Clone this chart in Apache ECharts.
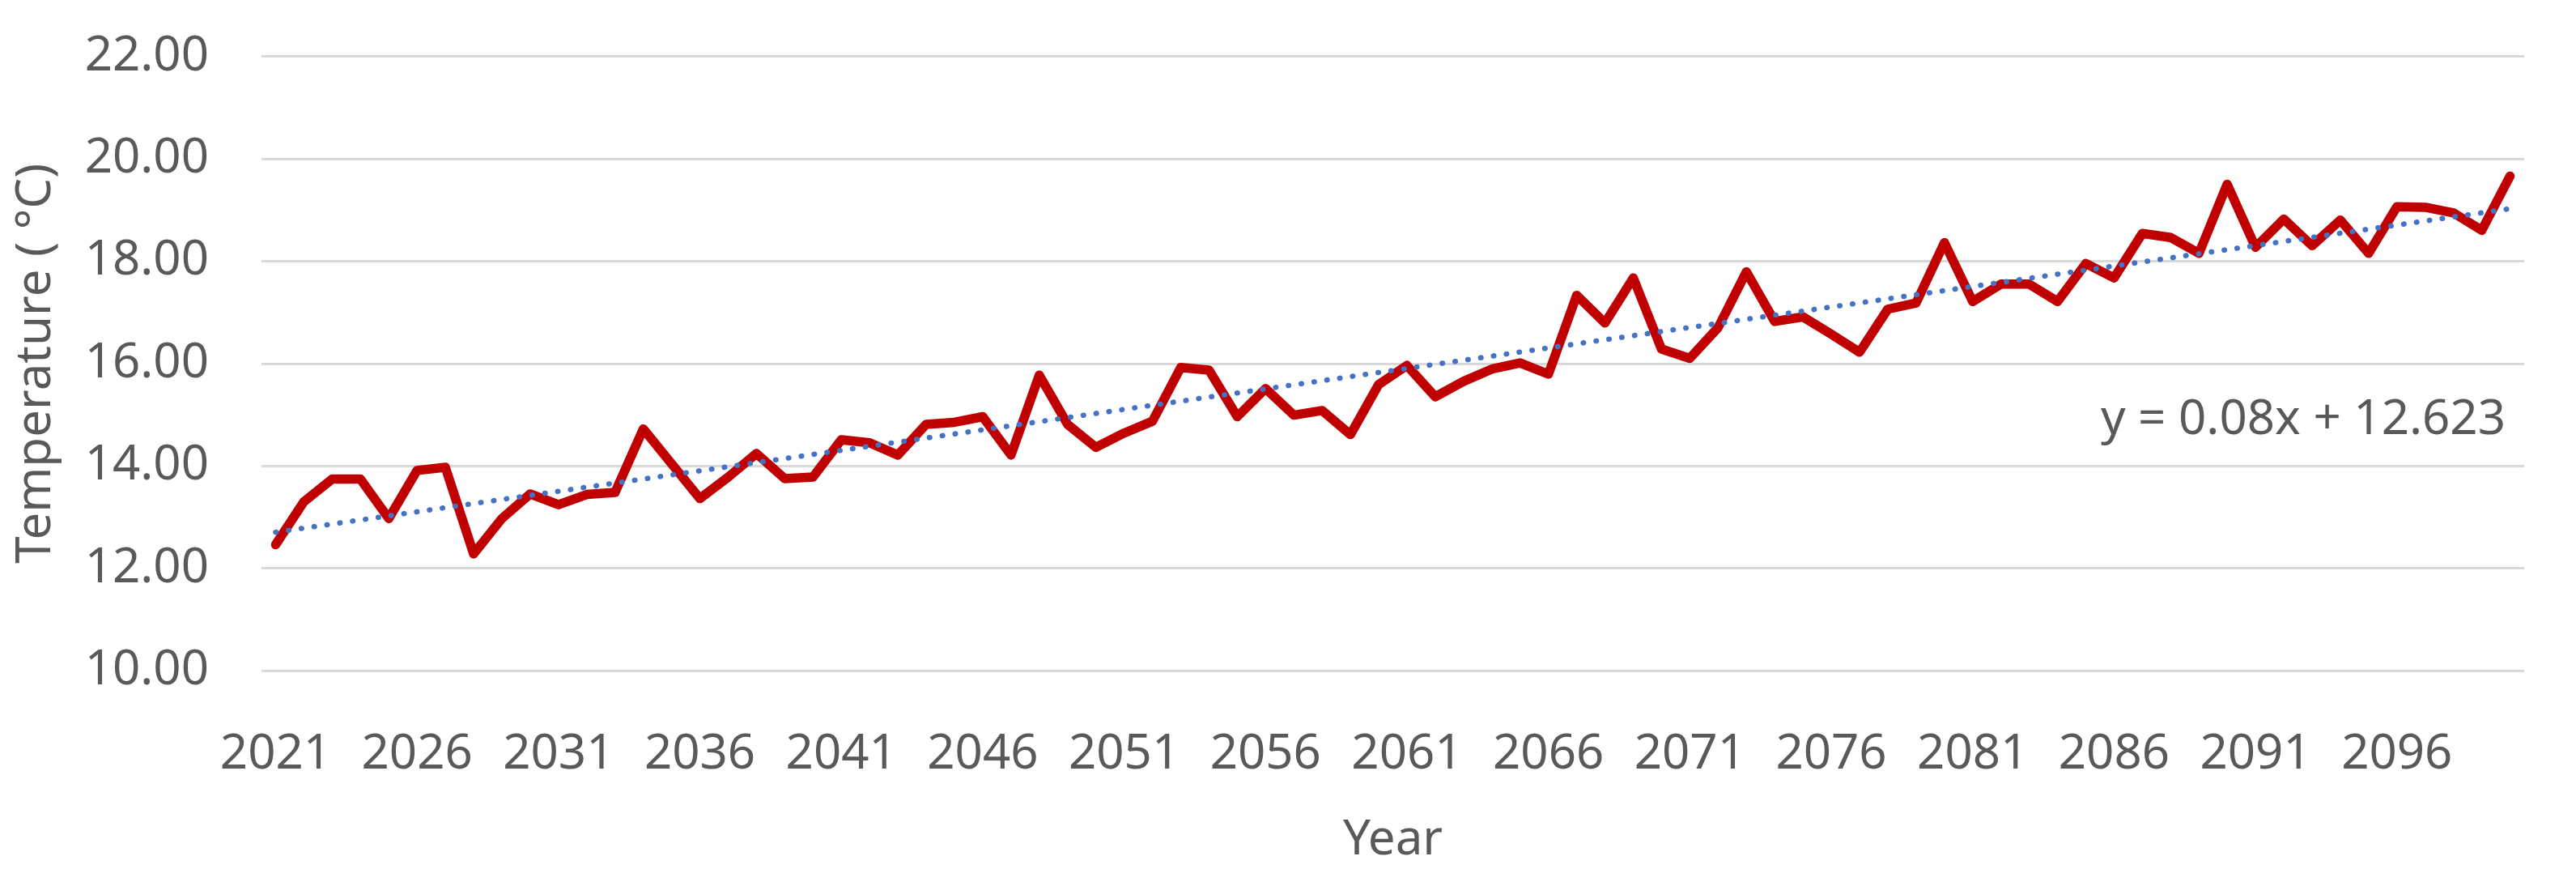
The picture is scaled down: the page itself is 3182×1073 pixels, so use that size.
<!DOCTYPE html>
<html>
<head>
<meta charset="utf-8">
<script src="https://cdn.jsdelivr.net/npm/echarts@6/dist/echarts.min.js"></script>
<style>
html,body{margin:0;padding:0;background:#fff;}
#c{width:3182px;height:1073px;}
</style>
</head>
<body>
<div id="c"></div>
<script>
// ---- data ----
const years = [];
for (let y = 2021; y <= 2100; y++) years.push(String(y));
const temps = [
  12.46, 13.30, 13.74, 13.74, 12.97, 13.91, 13.97, 12.28, 12.97, 13.45,
  13.24, 13.44, 13.48, 14.72, 14.04, 13.36, 13.78, 14.24, 13.75, 13.78,
  14.51, 14.45, 14.21, 14.81, 14.85, 14.96, 14.21, 15.77, 14.81, 14.36,
  14.64, 14.87, 15.92, 15.87, 14.96, 15.51, 14.99, 15.08, 14.61, 15.59,
  15.96, 15.35, 15.65, 15.89, 16.01, 15.79, 17.33, 16.79, 17.67, 16.28,
  16.10, 16.70, 17.79, 16.82, 16.91, 16.57, 16.22, 17.06, 17.18, 18.36,
  17.21, 17.55, 17.55, 17.21, 17.95, 17.67, 18.54, 18.46, 18.15, 19.50,
  18.27, 18.82, 18.30, 18.80, 18.15, 19.06, 19.05, 18.94, 18.60, 19.66
];
const trendSlope = 0.08;
const trendIntercept = 12.623;
const yTicks = [10, 12, 14, 16, 18, 20, 22];

// trend line: endpoints only, joined straight
const trend = temps.map(() => null);
trend[0] = trendSlope * 1 + trendIntercept;
trend[temps.length - 1] = trendSlope * temps.length + trendIntercept;

const FONT = '"Noto Sans", "Open Sans", sans-serif';
const TXT = '#595959';

const chart = echarts.init(document.getElementById('c'));
chart.setOption({
  animation: false,
  backgroundColor: '#fff',
  grid: { left: 323, right: 64, top: 69.5, bottom: 240, containLabel: false },
  xAxis: {
    type: 'category',
    data: years,
    boundaryGap: true,
    name: 'Year',
    nameLocation: 'middle',
    nameGap: 180,
    nameTextStyle: { fontSize: 60, color: TXT, fontFamily: FONT },
    axisLine: { show: false },
    axisTick: { show: false },
    axisLabel: { interval: 4, fontSize: 60, color: TXT, fontFamily: FONT, margin: 74 },
    splitLine: { show: false }
  },
  yAxis: {
    type: 'value',
    min: yTicks[0],
    max: yTicks[yTicks.length - 1],
    interval: 2,
    name: 'Temperature ( °C)',
    nameLocation: 'middle',
    nameRotate: 90,
    nameGap: 248,
    nameTextStyle: { fontSize: 60, color: TXT, fontFamily: FONT },
    axisLine: { show: false },
    axisTick: { show: false },
    axisLabel: { fontSize: 60, color: TXT, fontFamily: FONT, margin: 65,
      formatter: v => v.toFixed(2) },
    splitLine: { show: true, lineStyle: { color: '#d9d9d9', width: 3 } }
  },
  series: [
    {
      type: 'line',
      data: temps,
      symbol: 'none',
      smooth: false,
      lineStyle: { color: '#c00000', width: 11.5, join: 'round', cap: 'round' },
      z: 2
    },
    {
      type: 'line',
      data: trend,
      connectNulls: true,
      symbol: 'none',
      lineStyle: { color: '#4472c4', width: 6.5, type: [0.5, 15.5], cap: 'round' },
      z: 3
    }
  ],
  graphic: [{
    type: 'text',
    x: 3095,
    y: 519,
    style: {
      text: 'y = ' + trendSlope + 'x + ' + trendIntercept,
      fontSize: 60,
      fontFamily: FONT,
      fill: TXT,
      align: 'right',
      verticalAlign: 'middle'
    }
  }]
});
</script>
</body>
</html>
